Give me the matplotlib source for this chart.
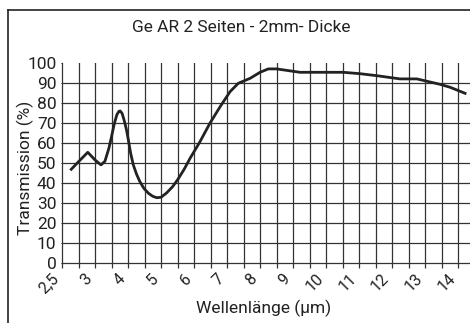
import matplotlib
matplotlib.use("Agg")
import matplotlib.pyplot as plt
import numpy as np
from matplotlib.lines import Line2D

plt.rcParams['font.family'] = ['Roboto', 'DejaVu Sans']

# Wellenlaenge in um, Transmission in %
wl = [2.64, 2.75, 2.89, 3.0, 3.18, 3.3, 3.42, 3.5, 3.58, 3.66, 3.72, 3.76, 3.82,
      3.88, 3.95, 4.01, 4.08, 4.16, 4.26, 4.36, 4.48, 4.62, 4.75, 4.87, 5.0, 5.17,
      5.35, 5.52, 5.7, 5.88, 6.18, 6.48, 6.79, 7.09, 7.34, 7.7,
      8.0, 8.25, 8.5, 9.21, 10.52, 11.03, 11.54, 12.24, 12.75, 13.45, 13.76, 14.21]
trans = [47.0, 50.8, 55.5, 51.7, 49.2, 51.0, 57.5, 63.3, 69.5, 74.2, 75.9, 76.2, 75.0,
         71.7, 67.0, 61.7, 55.0, 49.2, 44.5, 40.8, 37.5, 35.0, 33.5, 32.8, 33.0, 35.2,
         38.3, 42.2, 47.0, 52.5, 60.8, 70.0, 78.3, 85.8, 90.0, 92.5,
         95.5, 97.2, 97.2, 95.5, 95.5, 94.8, 93.8, 92.2, 92.2, 89.5, 88.0, 85.0]

xticks = [2.5, 3, 4, 5, 6, 7, 8, 9, 10, 11, 12, 13, 14]
xticklabels = ['2,5', '3', '4', '5', '6', '7', '8', '9', '10', '11', '12', '13', '14']
yticks = [0, 10, 20, 30, 40, 50, 60, 70, 80, 90, 100]


# the first section 2.5..3 is drawn as wide as one whole unit
def fwd(x):
    x = np.asarray(x, dtype=float)
    return np.where(x < 3, 3 - 2 * (3 - x), x)


def inv(t):
    t = np.asarray(t, dtype=float)
    return np.where(t < 3, 3 - (3 - t) / 2, t)


ink = '#222222'
fig = plt.figure(figsize=(4.7, 3.23), dpi=100)
ax = fig.add_axes([62 / 470, 1 - 263.3 / 323, 1 - 62 / 470, 200 / 323])
ax.set_xscale('function', functions=(fwd, inv))

ax.plot(wl, trans, color=ink, lw=2.0, solid_joinstyle='round', zorder=3)

ax.set_xlim(2.5, 14.36)
ax.set_ylim(0, 100)
ax.set_xticks(xticks)
ax.set_xticklabels(xticklabels, rotation=45, ha='right', fontsize=11.5, color=ink)
minor = [2.75] + [v + 0.5 for v in range(3, 14)]
ax.set_xticks(minor, minor=True)
ax.set_yticks(yticks)
ax.set_yticklabels([str(v) for v in yticks], fontsize=12.5, color=ink)

for v in xticks[1:] + minor:
    ax.axvline(v, color='#333333', lw=0.9, zorder=1)
for v in yticks[1:-1]:
    ax.axhline(v, color='#333333', lw=0.9, zorder=1)

ax.tick_params(axis='x', which='both', direction='out', length=3.5, width=0.9,
               color='#333333', pad=2)
ax.tick_params(axis='y', length=1, width=0.6, pad=3)
for s in ['top', 'right']:
    ax.spines[s].set_visible(False)
for s in ['left', 'bottom']:
    ax.spines[s].set_color('#333333')
    ax.spines[s].set_linewidth(0.9)

fig.text(241.5 / 470, 1 - 27 / 323, 'Ge AR 2 Seiten - 2mm- Dicke',
         ha='center', va='center', fontsize=12.5, color=ink)
fig.text(25 / 470, 1 - 168 / 323, 'Transmission (%)', rotation=90,
         ha='center', va='center', fontsize=12.5, color=ink)
fig.text(264 / 470, 1 - 308 / 323, 'Wellenlänge (µm)',
         ha='center', va='center', fontsize=12.5, color=ink)

# Rahmen
fig.add_artist(Line2D([8 / 470, 8 / 470], [0, 1 - 10 / 323], transform=fig.transFigure,
                      color=ink, lw=1.2))
fig.add_artist(Line2D([8 / 470, 1], [1 - 10 / 323, 1 - 10 / 323], transform=fig.transFigure,
                      color=ink, lw=1.2))

fig.savefig('out.png', dpi=100)
